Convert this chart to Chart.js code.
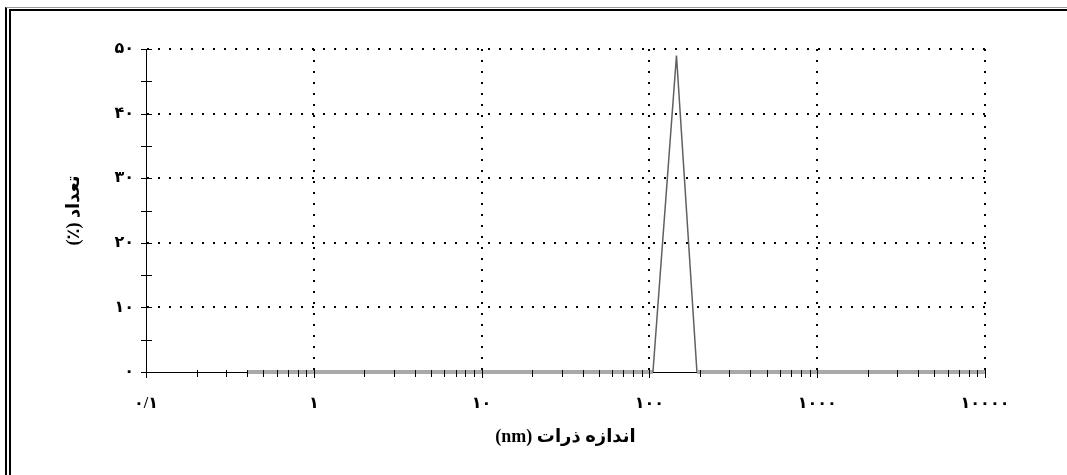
<!DOCTYPE html>
<html>
<head>
<meta charset="utf-8">
<script src="https://cdn.jsdelivr.net/npm/chart.js@4.4.1/dist/chart.umd.min.js"></script>
<style>
  body { margin: 0; background: #fff; }
  #wrap { position: relative; width: 1067px; height: 475px; }
  .frame { position: absolute; pointer-events: none; right: -20px; bottom: -20px; }
  #f1 { left: 5px; top: 7px; border-top: 1px solid #999; border-left: 2px solid #000; }
  #f2 { left: 9px; top: 9px; border-top: 2px solid #000; border-left: 2px solid #000; }
</style>
</head>
<body>
<div id="wrap">
  <canvas id="chart" width="1067" height="475"></canvas>
  <div class="frame" id="f1"></div>
  <div class="frame" id="f2"></div>
</div>
<script>
// particle size (nm) and number (%)
const sizes = [0.4, 1, 10, 100, 105, 145, 192, 1000, 10000]
const counts = [0, 0, 0, 0, 0, 49, 0, 0, 0]

const xTickValues = [0.1, 1, 10, 100, 1000, 10000]
const xTickLabels = ["۰/۱", "۱", "۱۰", "۱۰۰", "۱۰۰۰", "۱۰۰۰۰"]
const yTickValues = [0, 10, 20, 30, 40, 50]
const yTickLabels = ["۰", "۱۰", "۲۰", "۳۰", "۴۰", "۵۰"]

const xTitle = "\u202Bاندازه ذرات (nm)\u202C"
const yTitle = "\u202Bتعداد (٪)\u202C"

const fontFamily = '"Liberation Serif", "DejaVu Sans"'
const tickFont = { family: fontFamily, size: 16, weight: "bold" }
const titleFont = { family: fontFamily, size: 18, weight: "bold" }

// all x tick positions: majors plus 2..9 of each decade
const xAllTicks = []
xTickValues.forEach((v, i) => {
  xAllTicks.push(v)
  if (i < xTickValues.length - 1) {
    for (let k = 2; k <= 9; k++) xAllTicks.push(v * k)
  }
})

const isMajorX = v => xTickValues.some(m => Math.abs(m - v) < m * 1e-6)

// tick marks that cross the axes
const crossTicks = {
  id: "crossTicks",
  afterDatasetsDraw(chart) {
    const { ctx, scales } = chart
    const x = scales.x
    const y = scales.y
    ctx.save()
    ctx.strokeStyle = "#000"
    ctx.lineWidth = 1
    ctx.beginPath()
    x.ticks.forEach(t => {
      const px = Math.round(x.getPixelForValue(t.value)) + 0.5
      const major = isMajorX(t.value)
      ctx.moveTo(px, y.bottom - (major ? 4 : 2))
      ctx.lineTo(px, y.bottom + (major ? 6 : 5))
    })
    y.ticks.forEach(t => {
      const py = Math.round(y.getPixelForValue(t.value)) + 0.5
      ctx.moveTo(x.left - 5, py)
      ctx.lineTo(x.left + 6, py)
    })
    ctx.stroke()
    ctx.restore()
  },
}

const isZeroSeg = c => c.p0.parsed.y === 0 && c.p1.parsed.y === 0

new Chart(document.getElementById("chart"), {
  type: "line",
  data: {
    datasets: [
      {
        data: sizes.map((s, i) => ({ x: s, y: counts[i] })),
        borderColor: "#666",
        borderWidth: 1.5,
        pointRadius: 0,
        tension: 0,
        clip: false,
        segment: {
          borderColor: c => (isZeroSeg(c) ? "#a9a9a9" : "#606060"),
          borderWidth: c => (isZeroSeg(c) ? 4 : 1.5),
        },
      },
    ],
  },
  options: {
    responsive: false,
    animation: false,
    layout: { padding: { left: 30, top: 49, right: 82, bottom: 0 } },
    plugins: { legend: { display: false }, tooltip: { enabled: false } },
    scales: {
      x: {
        type: "logarithmic",
        min: 0.1,
        max: 10000,
        afterBuildTicks: scale => {
          scale.ticks = xAllTicks.map(v => ({ value: v }))
        },
        afterFit: scale => {
          scale.height = 103
        },
        grid: {
          drawTicks: false,
          lineWidth: 2,
          color: c => (c.tick && isMajorX(c.tick.value) && c.tick.value !== 0.1 ? "#000" : "rgba(0,0,0,0)"),
        },
        border: { display: true, color: "#000", width: 1, dash: [2, 9] },
        ticks: {
          autoSkip: false,
          maxRotation: 0,
          padding: 22,
          color: "#000",
          font: tickFont,
          callback: v => {
            const i = xTickValues.findIndex(m => Math.abs(m - v) < m * 1e-6)
            return i >= 0 ? xTickLabels[i] : ""
          },
        },
        title: {
          display: true,
          text: xTitle,
          color: "#000",
          font: titleFont,
          padding: { top: 0, bottom: 27 },
        },
      },
      y: {
        min: 0,
        max: 50,
        ticks: {
          stepSize: 5,
          padding: 12,
          color: "#000",
          font: tickFont,
          callback: v => {
            const i = yTickValues.indexOf(v)
            return i >= 0 ? yTickLabels[i] : ""
          },
        },
        afterFit: scale => {
          scale.width = 116
        },
        grid: {
          drawTicks: false,
          lineWidth: 2,
          color: c => (c.tick && c.tick.value % 10 === 0 && c.tick.value !== 0 ? "#000" : "rgba(0,0,0,0)"),
        },
        border: { display: true, color: "#000", width: 1, dash: [2, 9] },
        title: {
          display: true,
          text: yTitle,
          color: "#000",
          font: titleFont,
          padding: { top: 34, bottom: 0 },
        },
      },
    },
  },
  plugins: [crossTicks],
})
</script>
</body>
</html>
